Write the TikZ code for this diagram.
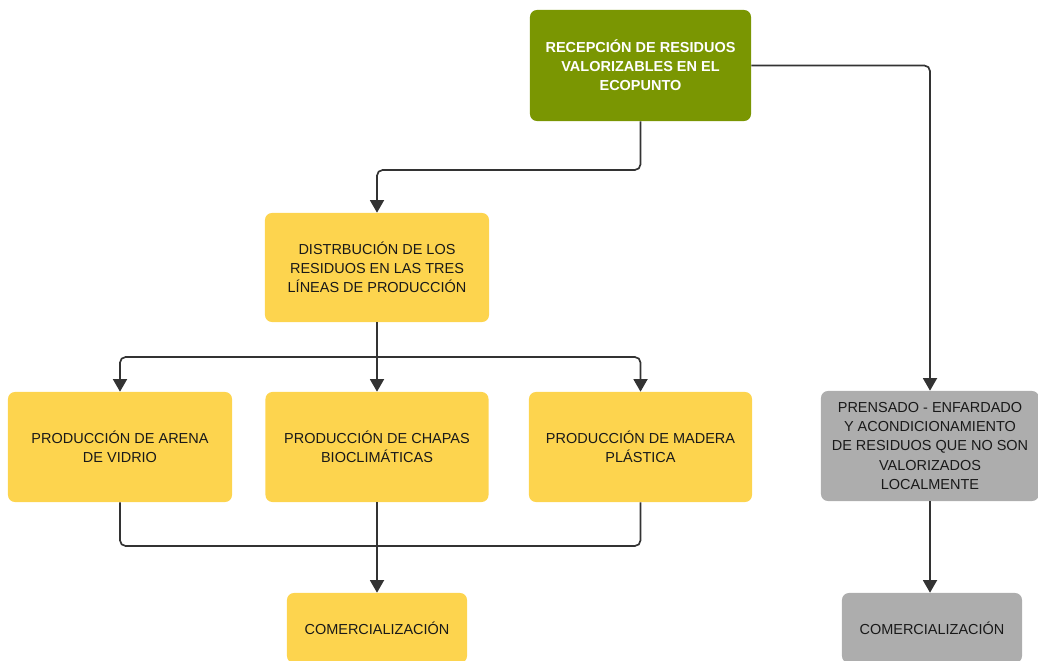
\documentclass[tikz,border=0pt]{standalone}
\usepackage{fontspec}
\setmainfont{Liberation Sans}
\usetikzlibrary{arrows.meta}

\definecolor{olive}{HTML}{7A9602}
\definecolor{sunny}{HTML}{FDD44E}
\definecolor{ashgrey}{HTML}{ADADAD}
\definecolor{wire}{HTML}{333333}

\tikzset{
  box/.style    = {rounded corners=5pt, align=center, inner sep=2pt,
                   font=\fontsize{10.3}{13.6}\selectfont, text=black!90},
  greenbox/.style = {box, fill=olive, text=white, font=\fontsize{10.3}{13.6}\selectfont\bfseries},
  yellowbox/.style = {box, fill=sunny},
  greybox/.style  = {box, fill=ashgrey},
  conn/.style   = {draw=wire, line width=1.2pt, rounded corners=4pt},
  arrow/.style  = {conn, -{Triangle[length=9pt, width=10pt]}}
}

\begin{document}
\begin{tikzpicture}[x=0.025cm, y=-0.025cm]
  \useasboundingbox (0,0) rectangle (1038,661);
  \clip (0,0) rectangle (1038,661);

  \node[greenbox,  minimum width=5.525cm, minimum height=2.775cm] at (640.5, 65.5) (recep)
       {RECEPCIÓN DE RESIDUOS\\VALORIZABLES EN EL\\ECOPUNTO};
  \node[yellowbox, minimum width=5.6cm,   minimum height=2.725cm] at (377, 267.5)  (dist)
       {DISTRBUCIÓN DE LOS\\RESIDUOS EN LAS TRES\\LÍNEAS DE PRODUCCIÓN};
  \node[yellowbox, minimum width=5.6cm,   minimum height=2.75cm]  at (120, 447)    (arena)
       {PRODUCCIÓN DE ARENA\\DE VIDRIO};
  \node[yellowbox, minimum width=5.575cm, minimum height=2.75cm]  at (377, 447)    (chapas)
       {PRODUCCIÓN DE CHAPAS\\BIOCLIMÁTICAS};
  \node[yellowbox, minimum width=5.575cm, minimum height=2.75cm]  at (640.5, 447)  (madera)
       {PRODUCCIÓN DE MADERA\\PLÁSTICA};
  \node[greybox,   minimum width=5.45cm,  minimum height=2.75cm]  at (930, 446)    (prens)
       {PRENSADO - ENFARDADO\\Y ACONDICIONAMIENTO\\DE RESIDUOS QUE NO SON\\VALORIZADOS\\LOCALMENTE};
  \node[yellowbox, minimum width=4.5cm,   minimum height=1.75cm]  at (377, 628)    (comer)
       {COMERCIALIZACIÓN};
  \node[greybox,   minimum width=4.5cm,   minimum height=1.75cm]  at (932, 628)    (comergr)
       {COMERCIALIZACIÓN};

  % junctions
  \coordinate (j1) at (377, 170);
  \coordinate (j2) at (377, 357);
  \coordinate (j3) at (377, 546);

  \draw[arrow] (recep.south) |- (j1) -- (dist.north);
  \draw[arrow] (recep.east) -| (prens.north);
  \draw[arrow] (dist.south) -- (chapas.north);
  \draw[arrow] (j2) -| (arena.north);
  \draw[arrow] (j2) -| (madera.north);
  \draw[conn]  (arena.south) |- (j3) -| (madera.south);
  \draw[arrow] (chapas.south) -- (comer.north);
  \draw[arrow] (prens.south) -- (prens.south |- comergr.north);
\end{tikzpicture}
\end{document}
